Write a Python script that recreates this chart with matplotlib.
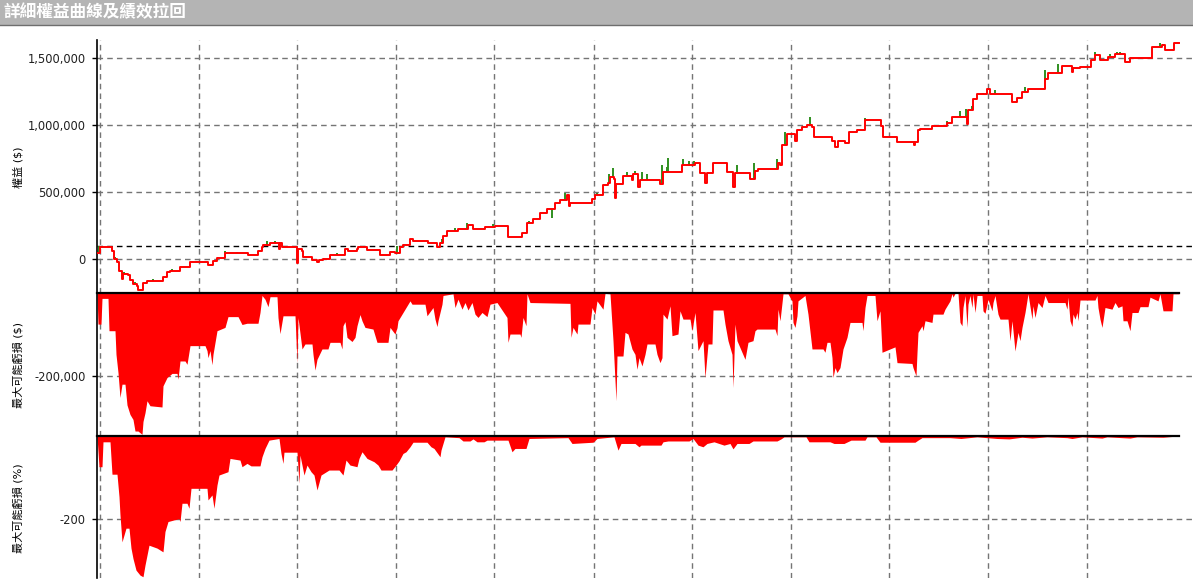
import numpy as np
import matplotlib
matplotlib.use("Agg")
from matplotlib import pyplot as plt
from matplotlib.patches import Rectangle
from matplotlib.lines import Line2D
from matplotlib.ticker import FuncFormatter

plt.rcParams['font.family'] = ['DejaVu Sans', 'Noto Sans CJK TC']

title = "詳細權益曲線及績效拉回"
label_equity = "權益 ($)"
label_dd_usd = "最大可能虧損 ($)"
label_dd_pct = "最大可能虧損 (%)"

initial_capital = 100000
# bar index of each year start (vertical grid lines)
year_start_bars = [3, 102, 200, 299, 397, 497, 595, 694, 792, 891, 990]

# equity curve (close), thousands of $
eq_bar = [0, 3, 13, 15, 17, 20, 22, 25, 26, 31, 33, 36, 40, 41, 45, 46, 50, 65, 66, 70,
          73, 83, 85, 93, 110, 111, 116, 120, 128, 136, 151, 161, 165, 166, 173, 181, 182, 183, 185, 199,
          200, 201, 205, 206, 215, 220, 222, 226, 233, 246, 248, 251, 260, 261, 266, 270, 280, 283, 291, 293,
          298, 303, 306, 313, 316, 331, 340, 343, 346, 350, 361, 371, 376, 388, 398, 410, 411, 423, 425, 430,
          436, 443, 450, 458, 463, 470, 472, 473, 493, 495, 498, 505, 506, 511, 513, 517, 518, 519, 526, 535,
          536, 541, 543, 560, 563, 566, 583, 585, 595, 598, 603, 608, 610, 616, 628, 630, 636, 638, 650, 653,
          658, 661, 678, 681, 683, 685, 690, 698, 700, 705, 710, 715, 717, 735, 738, 741, 748, 752, 760, 768,
          783, 784, 786, 798, 800, 816, 817, 818, 821, 823, 835, 850, 855, 869, 870, 871, 876, 880, 890, 893,
          913, 915, 920, 925, 931, 946, 948, 951, 965, 974, 975, 976, 983, 993, 994, 998, 1003, 1011, 1018, 1027,
          1028, 1033, 1054, 1055, 1065, 1068, 1076, 1077, 1082]
eq_k = [45, 95, 95, 60, 5, -18, -90, -149, -110, -115, -154, -185, -200, -229, -229, -177, -162, -162, -130, -93,
        -87, -55, -58, -20, -20, -42, -15, 12, 49, 45, 32, 64, 94, 107, 124, 124, 80, 124, 90, 90,
        -30, 80, 60, 19, -5, -20, -5, 0, 32, 32, 75, 60, 80, 90, 90, 69, 69, 32, 30, 57,
        50, 90, 107, 149, 137, 124, 94, 120, 174, 211, 224, 256, 228, 240, 251, 251, 164, 170, 200, 273,
        298, 343, 373, 418, 443, 480, 400, 418, 418, 450, 480, 480, 554, 567, 616, 600, 455, 562, 622, 590,
        640, 542, 592, 592, 560, 654, 654, 704, 704, 716, 642, 567, 642, 716, 716, 654, 540, 642, 642, 600,
        660, 672, 672, 720, 700, 853, 935, 880, 965, 985, 1000, 985, 910, 880, 840, 880, 870, 950, 965, 1040,
        1040, 997, 910, 910, 873, 873, 850, 873, 965, 972, 995, 1015, 1064, 1064, 1010, 1114, 1194, 1234, 1269, 1234,
        1234, 1176, 1200, 1251, 1269, 1269, 1343, 1393, 1443, 1443, 1400, 1425, 1437, 1437, 1487, 1525, 1487, 1512, 1532, 1532,
        1475, 1500, 1500, 1587, 1600, 1562, 1562, 1612, 1612]

# intraday highs shown as green wicks, thousands of $
high_bar = [2, 18, 21, 27, 38, 56, 75, 100, 128, 140, 170, 178, 240, 250, 265, 300, 345, 358, 370, 396,
            432, 455, 468, 500, 512, 516, 530, 538, 545, 550, 565, 571, 570, 586, 592, 597, 640, 657, 680, 688,
            713, 768, 850, 863, 869, 875, 886, 898, 928, 948, 961, 998, 1013, 1020, 1023, 1063, 1066]
high_k = [100, 20, -15, -95, -170, -150, -75, -10, 60, 55, 135, 140, 45, 85, 100, 100, 155, 235, 270, 262,
          285, 310, 495, 495, 640, 680, 650, 660, 654, 640, 704, 756, 690, 748, 735, 730, 704, 716, 748, 950,
          1065, 1055, 1030, 1107, 1125, 1144, 1243, 1263, 1285, 1410, 1460, 1545, 1530, 1545, 1545, 1612, 1607]

# max drawdown in $, thousands
dd_bar = [0, 1, 4, 5, 11, 12, 18, 19, 21, 23, 25, 28, 30, 33, 36, 38, 41, 45, 46, 48,
          50, 53, 65, 66, 70, 75, 80, 81, 83, 88, 90, 93, 108, 110, 111, 113, 115, 116, 120, 128,
          131, 141, 145, 150, 161, 163, 165, 168, 171, 173, 180, 181, 183, 186, 198, 200, 201, 205, 208, 215,
          216, 218, 220, 225, 231, 233, 243, 245, 246, 248, 250, 255, 258, 260, 263, 265, 268, 276, 280, 291,
          293, 298, 300, 301, 308, 313, 315, 328, 330, 336, 338, 340, 341, 345, 346, 356, 358, 361, 365, 368,
          371, 375, 378, 381, 385, 390, 393, 400, 410, 411, 413, 423, 424, 426, 429, 430, 433, 473, 474, 476,
          480, 481, 493, 495, 498, 500, 506, 508, 513, 516, 519, 520, 526, 528, 531, 535, 538, 540, 542, 545,
          548, 550, 558, 560, 563, 565, 566, 570, 573, 575, 581, 583, 586, 593, 595, 598, 601, 606, 608, 611,
          615, 616, 626, 628, 631, 635, 636, 638, 640, 648, 651, 656, 658, 660, 678, 680, 681, 683, 686, 691,
          695, 696, 698, 700, 701, 708, 711, 715, 726, 728, 730, 733, 735, 736, 738, 740, 743, 746, 750, 753,
          765, 766, 768, 770, 778, 780, 783, 785, 798, 800, 815, 816, 819, 820, 821, 825, 826, 828, 835, 836,
          846, 848, 853, 855, 856, 858, 861, 863, 865, 866, 868, 870, 871, 873, 875, 876, 878, 880, 885, 886,
          888, 890, 891, 895, 896, 898, 901, 903, 911, 913, 915, 916, 918, 921, 923, 925, 928, 931, 935, 936,
          938, 941, 945, 948, 951, 968, 970, 971, 973, 975, 976, 978, 980, 981, 983, 998, 1000, 1001, 1003, 1005,
          1008, 1015, 1018, 1021, 1025, 1026, 1030, 1033, 1035, 1041, 1043, 1051, 1053, 1061, 1063, 1066, 1075, 1076, 1082]
dd_k = [0, -75, -75, -13, -13, -91, -91, -148, -192, -252, -220, -220, -270, -293, -305, -333, -333, -341, -310, -289,
        -260, -272, -275, -224, -204, -194, -194, -208, -164, -164, -172, -127, -127, -139, -156, -139, -173, -148, -91, -83,
        -57, -57, -76, -73, -73, -47, -6, -15, -33, -9, -9, -59, -98, -55, -55, -168, -59, -135, -123, -123,
        -148, -186, -160, -135, -135, -119, -119, -135, -79, -69, -107, -117, -107, -79, -52, -67, -83, -87, -119, -119,
        -83, -99, -83, -67, -39, -19, -27, -27, -55, -35, -63, -81, -67, -27, -6, -2, -35, -15, -39, -23,
        -41, -23, -51, -59, -47, -57, -27, -23, -59, -119, -99, -99, -107, -59, -79, -2, -23, -25, -107, -83,
        -99, -75, -75, -35, -51, -19, -39, -1, -2, -115, -260, -152, -152, -95, -99, -135, -148, -184, -156, -176,
        -148, -123, -123, -148, -168, -156, -51, -63, -31, -103, -99, -43, -63, -63, -91, -47, -139, -115, -204, -123,
        -123, -41, -41, -75, -115, -148, -228, -75, -115, -160, -119, -115, -91, -87, -87, -103, -39, -67, -2, -2,
        -19, -71, -83, -55, -19, -6, -51, -135, -135, -143, -119, -119, -156, -204, -180, -192, -180, -135, -107, -71,
        -71, -91, -35, -6, -6, -67, -43, -143, -130, -168, -170, -180, -200, -144, -95, -79, -91, -67, -71, -51,
        -51, -39, -19, -2, -10, -1, -1, -71, -79, -35, -6, -83, -27, -6, -35, -2, -47, -6, -6, -43,
        -49, -27, -15, -43, -23, -6, -51, -63, -63, -115, -67, -91, -140, -95, -115, -83, -47, -2, -63, -31,
        -59, -23, -35, -6, -23, -23, -39, -10, -67, -81, -51, -63, -47, -67, -17, -17, -6, -35, -63, -83,
        -35, -39, -23, -35, -31, -67, -67, -91, -47, -47, -33, -33, -10, -19, -2, -43, -43, -2, -2]

# max drawdown in %
ddp_bar = [0, 2, 5, 6, 13, 15, 20, 22, 23, 25, 29, 32, 34, 36, 39, 43, 46, 48, 50, 52,
           60, 66, 68, 71, 82, 83, 85, 90, 92, 94, 110, 111, 115, 117, 120, 122, 131, 133, 143, 145,
           150, 154, 163, 165, 168, 172, 182, 184, 186, 187, 200, 202, 203, 207, 210, 214, 217, 220, 224, 232,
           242, 246, 249, 253, 260, 262, 265, 270, 277, 281, 284, 295, 299, 302, 306, 309, 313, 316, 330, 334,
           337, 343, 344, 348, 362, 366, 373, 376, 380, 387, 390, 411, 415, 418, 429, 432, 471, 475, 496, 500,
           517, 521, 524, 538, 542, 544, 564, 566, 571, 592, 596, 601, 606, 610, 617, 627, 633, 636, 640, 652,
           656, 680, 684, 687, 709, 712, 733, 737, 747, 754, 768, 770, 779, 783, 818, 821, 825, 853, 864, 880,
           900, 912, 925, 935, 950, 970, 975, 985, 1005, 1010, 1025, 1033, 1040, 1066, 1076, 1082]
ddp = [0, -74, -74, -14, -14, -92, -92, -146, -190, -255, -222, -222, -270, -295, -323, -335, -339, -311, -287, -263,
       -270, -279, -230, -206, -199, -206, -162, -162, -174, -126, -126, -154, -142, -174, -118, -94, -86, -54, -58, -74,
       -66, -72, -72, -50, -30, -10, -6, -42, -66, -39, -39, -114, -46, -94, -70, -86, -94, -130, -94, -82,
       -82, -94, -58, -70, -74, -54, -38, -54, -62, -70, -82, -82, -70, -60, -42, -38, -26, -15, -15, -26,
       -30, -50, -34, -2, -4, -12, -12, -7, -14, -14, -10, -10, -38, -30, -30, -6, -4, -18, -15, -6,
       -2, -34, -18, -18, -26, -22, -22, -14, -12, -12, -6, -22, -26, -18, -14, -22, -18, -31, -18, -18,
       -12, -12, -7, -2, -2, -14, -14, -18, -18, -10, -10, -2, -2, -15, -15, -10, -4, -4, -6, -2,
       -6, -7, -3, -5, -2, -4, -6, -2, -5, -2, -4, -5, -2, -3, -1, -1]

grid_color = '#757575'
grid_dash = (0, (4, 3))

fig = plt.figure(figsize=(11.93, 5.84), dpi=100)
W, H = 1193, 584

# title bar
fig.add_artist(Rectangle((0, 1 - 25 / H), 1, 25 / H, transform=fig.transFigure,
                         facecolor='#b4b4b4', edgecolor='none'))
fig.add_artist(Line2D([0, 1], [1 - 25 / H] * 2, transform=fig.transFigure,
                      color='#6e6e6e', lw=1))
fig.text(3 / W, 1 - 12 / H, title, color='white', fontsize=12, fontweight='bold',
         va='center', ha='left', family=['Noto Sans CJK TC', 'DejaVu Sans'])

left = 97 / W
ax1 = fig.add_axes([left, 1 - 293 / H, 1 - left, (293 - 40) / H])
ax2 = fig.add_axes([left, 1 - 436 / H, 1 - left, (436 - 293) / H])
ax3 = fig.add_axes([left, 1 - 578 / H, 1 - left, (578 - 436) / H])


def style(ax, yticks, ylim):
    ax.set_xlim(0, 1096)
    ax.set_ylim(*ylim)
    ax.set_xticks(year_start_bars)
    ax.set_yticks(yticks)
    ax.grid(True, color=grid_color, linestyle=grid_dash, linewidth=1)
    ax.set_axisbelow(True)
    for s in ['top', 'right', 'bottom']:
        ax.spines[s].set_visible(False)
    ax.spines['left'].set_linewidth(1.2)
    ax.tick_params(axis='x', length=0, labelbottom=False)
    ax.tick_params(axis='y', length=3.6, width=1, labelsize=8.3, pad=4.5, labelcolor='#202020')
    ax.yaxis.set_major_formatter(FuncFormatter(lambda v, p: f"{v:,.0f}"))
    ax.patch.set_alpha(0)


# equity panel
eq = np.array(eq_k) * 1000
style(ax1, [0, 500000, 1000000, 1500000], (-251000, 1636000))
ax1.axhline(initial_capital, color='black', lw=1, linestyle=grid_dash, zorder=1)
idx = np.searchsorted(eq_bar, high_bar, side='right') - 1
ax1.vlines(high_bar, eq[idx], np.array(high_k) * 1000, color='#2f8f1f', lw=1.4, zorder=2)
ax1.step(eq_bar, eq, where='post', color='#ff0000', lw=1.4, zorder=3)

# drawdown $
dd = np.array(dd_k) * 1000
style(ax2, [-200000], (-345000, 0))
ax2.fill_between(dd_bar, dd, 0, color='#ff0000', lw=0, zorder=2)
ax2.plot([dd_bar[0], dd_bar[-1]], [0, 0], color='black', lw=1.6, clip_on=False, zorder=4)

# drawdown %
style(ax3, [-200], (-342, 0))
ax3.fill_between(ddp_bar, ddp, 0, color='#ff0000', lw=0, zorder=2)
ax3.plot([ddp_bar[0], ddp_bar[-1]], [0, 0], color='black', lw=1.6, clip_on=False, zorder=4)

fig.text(18 / W, 1 - 167 / H, label_equity, rotation=90, va='center', ha='center', fontsize=8)
fig.text(18 / W, 1 - 365 / H, label_dd_usd, rotation=90, va='center', ha='center', fontsize=8)
fig.text(18 / W, 1 - 508 / H, label_dd_pct, rotation=90, va='center', ha='center', fontsize=8)

fig.savefig('out.png', dpi=100)
plt.close()
